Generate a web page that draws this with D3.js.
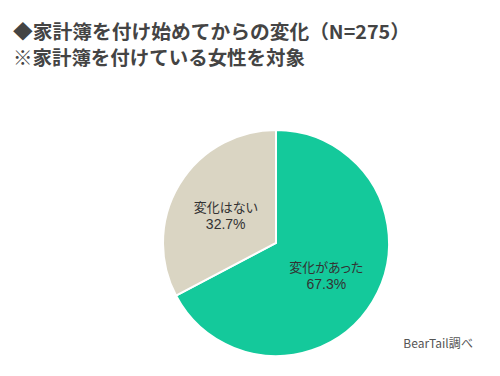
<!DOCTYPE html>
<html>
<head>
<meta charset="utf-8">
<script src="https://cdn.jsdelivr.net/npm/d3@7"></script>
<style>
  body { margin: 0; background: #fff; }
  text { font-family: "Noto Sans CJK JP", "Noto Sans", sans-serif; }
</style>
</head>
<body>
<div id="chart"></div>
<script>
// dati
const titles = ["◆家計簿を付け始めてからの変化（N=275）", "※家計簿を付けている女性を対象"];
const titleWidths = [397, 292];
const categories = ["変化があった", "変化はない"];
const values = [67.3, 32.7];
const colors = ["#14C99B", "#DAD5C3"];
const source = "BearTail調べ";

var width = 500, height = 376;
var cx = 276, cy = 243, radius = 113;

var svg = d3.select("#chart")
    .append("svg")
    .attr("width", width)
    .attr("height", height);

svg.selectAll("text.title")
    .data(titles)
    .enter().append("text")
    .attr("class", "title")
    .attr("x", 13)
    .attr("y", function(d, i) { return 39 + i * 26; })
    .attr("font-size", 19)
    .attr("font-weight", "bold")
    .attr("fill", "#444")
    .attr("textLength", function(d, i) { return titleWidths[i]; })
    .attr("lengthAdjust", "spacingAndGlyphs")
    .text(function(d) { return d; });

var pie = d3.pie().sort(null).value(function(d) { return d; });
var arc = d3.arc().innerRadius(0).outerRadius(radius);

var g = svg.append("g")
    .attr("transform", "translate(" + cx + "," + cy + ")");

var slices = pie(values);

g.selectAll("path")
    .data(slices)
    .enter().append("path")
    .attr("d", arc)
    .attr("fill", function(d, i) { return colors[i]; })
    .attr("stroke", "#fff")
    .attr("stroke-width", 2);

// posizione etichette dentro le fette
var labelArc = d3.arc().innerRadius(radius * 0.52).outerRadius(radius * 0.52);

var labels = g.selectAll("g.label")
    .data(slices)
    .enter().append("g")
    .attr("class", "label")
    .attr("transform", function(d) {
        var c = labelArc.centroid(d);
        return "translate(" + c[0] + "," + c[1] + ")";
    });

labels.append("text")
    .attr("text-anchor", "middle")
    .attr("y", -1)
    .attr("font-size", 13)
    .attr("fill", "#333")
    .style("font-feature-settings", "'palt'")
    .text(function(d, i) { return categories[i]; });

labels.append("text")
    .attr("text-anchor", "middle")
    .attr("y", 16)
    .attr("font-size", 14)
    .attr("fill", "#333")
    .style("font-family", "'Liberation Sans', Arial, sans-serif")
    .text(function(d) { return d.value.toFixed(1) + "%"; });

svg.append("text")
    .attr("x", 473)
    .attr("y", 348)
    .attr("text-anchor", "end")
    .attr("font-size", 12)
    .attr("fill", "#555")
    .style("font-feature-settings", "'palt'")
    .text(source);
</script>
</body>
</html>
